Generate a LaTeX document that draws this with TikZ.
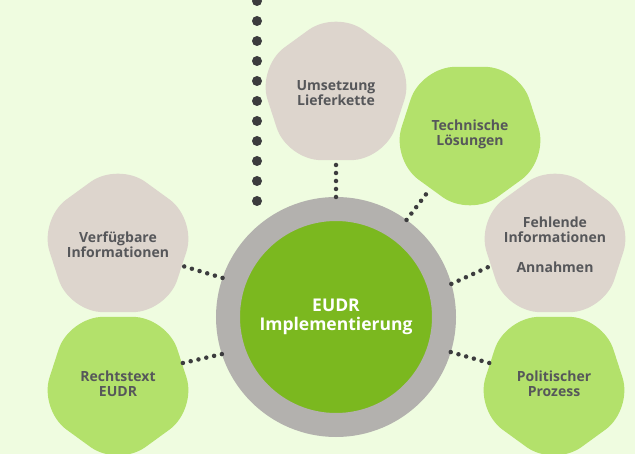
\documentclass[tikz,border=0pt]{standalone}
\usepackage{fontspec}
\newfontfamily\opensans{Open Sans}
\usepackage{tikz}
\usetikzlibrary{shapes.geometric}
\definecolor{bg}{HTML}{EFFCE0}
\definecolor{ring}{HTML}{B3B1AE}
\definecolor{hubgreen}{HTML}{7BB81F}
\definecolor{leaf}{HTML}{B3E16B}
\definecolor{sand}{HTML}{DDD5CD}
\definecolor{ink}{HTML}{56575A}
\definecolor{dotgray}{HTML}{3C3C3E}

\begin{document}
\begin{tikzpicture}[x=1pt,y=-1pt,
  blob/.style={regular polygon, regular polygon sides=5, minimum size=166pt, inner sep=-20pt,
    rounded corners=34pt, text=ink, align=center,
    font=\opensans\bfseries\fontsize{14}{15}\selectfont},
  blobup/.style={blob, fill=#1},
  blobdown/.style={blob, fill=#1, shape border rotate=180},
  hub/.style={circle, minimum size=216pt, line width=24pt, draw=ring, fill=hubgreen,
    text=white, align=center, font=\opensans\bfseries\fontsize{17.5}{19.5}\selectfont},
  thindots/.style={draw=dotgray, line width=4.5pt, line cap=round, dash pattern=on 0pt off 8pt},
  bigdots/.style={draw=dotgray, line width=10pt, line cap=round, dash pattern=on 0pt off 20pt}]
\fill[bg] (0,0) rectangle (635,454);
\useasboundingbox (0,0) rectangle (635,454);

% dotted line from above
\coordinate (dotend) at (257,201);
\coordinate (dottop) at (257,-12);
\draw[bigdots] (dotend) -- (dottop);

\node[blobup=sand] (umsetzung) at (336,93) {Umsetzung\\Lieferkette};
\node[blobdown=leaf] (technik) at (470,134) {Technische\\Lösungen};
\node[blobup=sand] (fehlend) at (555,245) {Fehlende\\Informationen\\[15pt]Annahmen};
\node[blobdown=leaf] (politik) at (554,384) {Politischer\\Prozess};
\node[blobup=sand] (verfuegbar) at (118,245) {Verfügbare\\Informationen};
\node[blobdown=leaf] (rechtstext) at (118,384) {Rechtstext\\EUDR};

\node[hub] (hub) at (336,317) {EUDR\\Implementierung};

\path[thindots]
(hub.90) edge (umsetzung.270)
(hub.54) edge (technik.234)
(hub.16) edge (fehlend.198)
(hub.-17) edge (politik.162)
(hub.161) edge (verfuegbar.342)
(hub.198) edge (rechtstext.18);
\end{tikzpicture}
\end{document}
